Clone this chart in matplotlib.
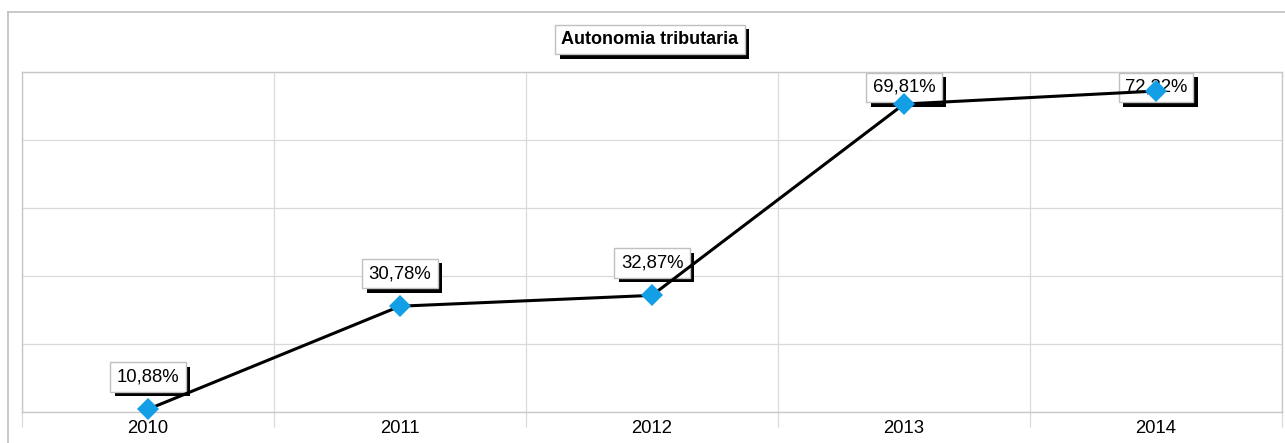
import matplotlib
matplotlib.use("Agg")
import matplotlib.pyplot as plt
import matplotlib.patheffects as pe
from matplotlib.lines import Line2D
import numpy as np

plt.rcParams['font.family'] = ['Liberation Sans', 'DejaVu Sans']

title = "Autonomia tributaria"
years = ["2010", "2011", "2012", "2013", "2014"]
values = [10.88, 30.78, 32.87, 69.81, 72.32]
labels = ["10,88%", "30,78%", "32,87%", "69,81%", "72,32%"]

W, H, DPI = 1285, 443, 100
fig = plt.figure(figsize=(W / DPI, H / DPI), dpi=DPI)

# outer chart border
border_c = '#c0c0c0'
fig.add_artist(Line2D([8 / W, 8 / W], [0, 1 - 12 / H], transform=fig.transFigure,
                      color=border_c, lw=1.2))
fig.add_artist(Line2D([8 / W, 1], [1 - 12 / H, 1 - 12 / H], transform=fig.transFigure,
                      color=border_c, lw=1.2))

ax_l, ax_r, ax_t, ax_b = 22, 1282, 72, 412
ax = fig.add_axes([ax_l / W, (H - ax_b) / H, (ax_r - ax_l) / W, (ax_b - ax_t) / H])

ymin, ymax = 10.35, 76.0
x = np.arange(len(years))
ax.set_xlim(-0.5, len(years) - 0.5)
ax.set_ylim(ymin, ymax)

grid_c = '#d9d9d9'
for yv in np.linspace(ymin, ymax, 6):
    ax.axhline(yv, color=grid_c, lw=0.9, zorder=0)
for xv in np.arange(-0.5, len(years), 1.0):
    ax.axvline(xv, color=grid_c, lw=0.9, zorder=0)

for s in ax.spines.values():
    s.set_color('#c8c8c8')
    s.set_linewidth(1.0)

ax.set_yticks([])
ax.set_xticks(x)
ax.set_xticklabels(years, fontsize=13.3)
ax.tick_params(axis='x', which='major', length=0, pad=6)
ax.set_xticks(np.arange(-0.5, len(years), 1.0), minor=True)
ax.tick_params(axis='x', which='minor', length=11, color=grid_c, width=0.9)

ax.plot(x, values, color='black', lw=2.2, marker='D', markersize=11,
        markerfacecolor='#129fe6', markeredgewidth=0, zorder=5, clip_on=False)

box = dict(boxstyle='square,pad=0.34', facecolor='white', edgecolor='#c0c0c0', linewidth=1.0)
shadow = [pe.SimplePatchShadow(offset=(3.3, -3.3), shadow_rgbFace='black', alpha=1.0), pe.Normal()]

axh = ax_b - ax_t
trans = matplotlib.transforms.blended_transform_factory(ax.transData, ax.transAxes)
for xi, v, lab in zip(x, values, labels):
    yf = (v - ymin) / (ymax - ymin) + 32.5 / axh
    yf = min(yf, 1 - 15.5 / axh)
    t = ax.text(xi, yf, lab, transform=trans, ha='center', va='center', fontsize=13.3,
                bbox=box, zorder=4)
    t.get_bbox_patch().set_path_effects(shadow)

tt = fig.text(650 / W, 1 - 39.5 / H, title, ha='center', va='center', fontsize=13,
              fontweight='bold', bbox=box)
tt.get_bbox_patch().set_path_effects(shadow)

fig.savefig('out.png', dpi=DPI)
